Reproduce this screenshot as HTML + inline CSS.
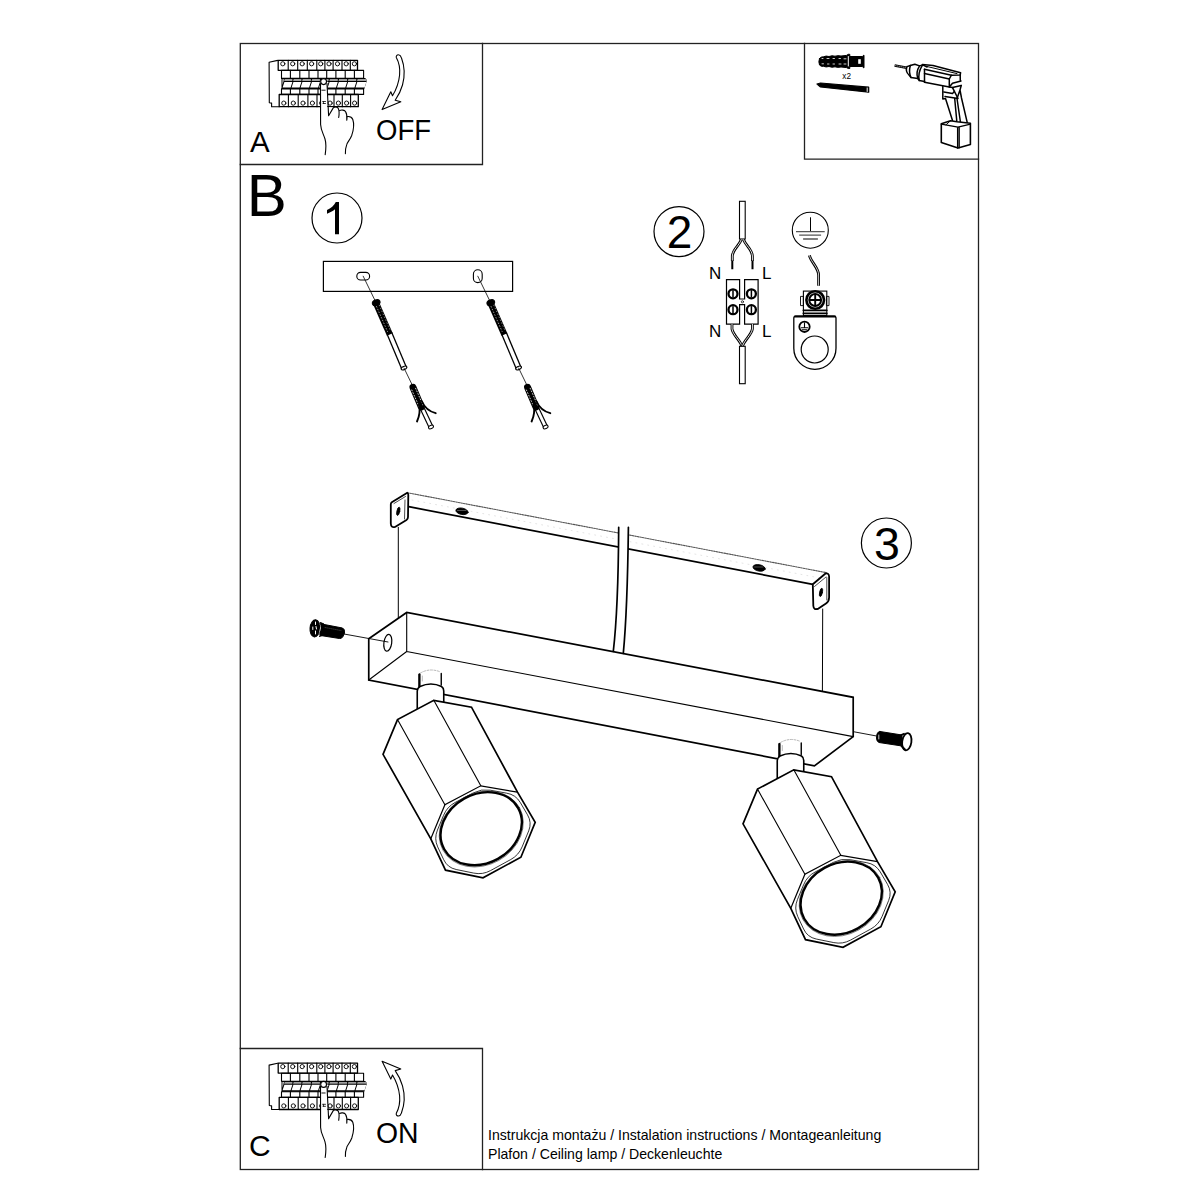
<!DOCTYPE html>
<html><head><meta charset="utf-8">
<style>
html,body{margin:0;padding:0;background:#fff;}
body{width:1200px;height:1200px;overflow:hidden;position:relative;}
svg{position:absolute;left:0;top:0;}
text{font-family:"Liberation Sans",sans-serif;}
</style></head><body>
<svg width="1200" height="1200" viewBox="0 0 1200 1200" fill="none" stroke="#000" stroke-linejoin="round" stroke-linecap="round">
<!-- frame -->
<g stroke="#222" stroke-width="1.3" stroke-linecap="square" stroke-linejoin="miter">
<rect x="240.3" y="43.5" width="738.2" height="1126"/>
<path d="M240.3,164.5 H482.5 V43.5"/>
<path d="M240.3,1048.5 H482.5 V1169.5"/>
<path d="M804.5,43.5 V159.2 H978.5"/>
</g>
<!-- letters -->
<g stroke="none" fill="#000">
<text x="250" y="151.8" font-size="29.5">A</text>
<text x="249" y="1156.3" font-size="30">C</text>
<text x="246.8" y="216" font-size="60">B</text>
<text x="376" y="140" font-size="29.5" textLength="55" lengthAdjust="spacingAndGlyphs">OFF</text>
<text x="376" y="1143.3" font-size="29" textLength="42.6" lengthAdjust="spacingAndGlyphs">ON</text>
<text x="488" y="1140.3" font-size="14.1">Instrukcja montażu / Instalation instructions / Montageanleitung</text>
<text x="488" y="1159.3" font-size="14.1">Plafon / Ceiling lamp / Deckenleuchte</text>
<path d="M339,202 V234.2 H335 V209.3 C332.5,211.3 330,212.7 327,213.8 V210 C331,208.5 334,205.5 335.8,202 Z" fill="#000" stroke="none"/>
<text x="679.6" y="247.6" font-size="46" text-anchor="middle">2</text>
<text x="887" y="559.5" font-size="46.5" text-anchor="middle">3</text>
<text x="709" y="278.6" font-size="17">N</text>
<text x="762" y="278.6" font-size="17">L</text>
<text x="709" y="337.2" font-size="17">N</text>
<text x="762" y="337.2" font-size="17">L</text>

</g>
<g stroke-width="1.2">
<circle cx="337" cy="218" r="25"/>
<circle cx="679" cy="231.6" r="25"/>
<circle cx="886.4" cy="543" r="25"/>
</g>
<!-- arrows -->
<path id="arrOff" d="M396.3,57.5 C395.8,55.5 397.5,54.6 398.5,54.8 C400,55 401,56.5 401.5,58 C404.5,66 405,76 402.5,85 C400.8,91 398.5,95.5 395.2,100.2 L400.8,101.8 L382.1,109.6 L390.8,91.7 L392.5,95.8 C396,90 398.8,83 399.6,75 C400.2,68.5 398.8,62 396.3,57.5 Z" stroke-width="1.1"/>
<g transform="translate(0,1170.8) scale(1,-1)"><path d="M396.3,57.5 C395.8,55.5 397.5,54.6 398.5,54.8 C400,55 401,56.5 401.5,58 C404.5,66 405,76 402.5,85 C400.8,91 398.5,95.5 395.2,100.2 L400.8,101.8 L382.1,109.6 L390.8,91.7 L392.5,95.8 C396,90 398.8,83 399.6,75 C400.2,68.5 398.8,62 396.3,57.5 Z" stroke-width="1.1"/></g>

<!-- breaker panel A -->
<g id="brk" stroke="#000">
<path d="M277.6,60.4 L269.1,62.3 L269.3,102.7 L271.6,103.1 L271.6,106.7 L279.2,106.7" stroke-width="1.1"/>
<!-- top terminal row -->
<rect x="278.2" y="60.3" width="79.3" height="10" stroke-width="1.3"/>
<path d="M288.2,60.3V70.3 M297.7,60.3V70.3 M307.3,60.3V70.3 M316.8,60.3V70.3 M324.9,60.3V70.3 M333.1,60.3V70.3 M342,60.3V70.3 M350.3,60.3V70.3" stroke-width="1.1"/>
<g stroke-width="0.9">
<circle cx="282.8" cy="63.8" r="2.1"/><circle cx="292.7" cy="63.8" r="2.1"/><circle cx="302.2" cy="63.8" r="2.1"/><circle cx="311.6" cy="63.8" r="2.1"/><circle cx="320.7" cy="63.8" r="2.1"/><circle cx="329" cy="63.8" r="2.1"/><circle cx="337.5" cy="63.8" r="2.1"/><circle cx="346.2" cy="63.8" r="2.1"/><circle cx="354.4" cy="63.8" r="2.1"/>
</g>
<!-- row 2 -->
<rect x="281.5" y="70.4" width="82.1" height="8" stroke-width="1.1"/>
<path d="M290.4,70.4V78.4 M299.8,70.4V78.4 M309,70.4V78.4 M318,70.4V78.4 M326.7,70.4V78.4 M335.9,70.4V78.4 M345.2,70.4V78.4 M354.4,70.4V78.4" stroke-width="1.1"/>
<!-- toggle band -->
<path d="M281.5,78.1 H365.2 Q366.8,79 366.6,81.5 L364.3,88.9 H281.5 Z" fill="#000" stroke="none"/>
<path d="M284.70,79.1 H292.40 V80.9 H284.10 Z M293.70,79.1 H301.40 V80.9 H293.10 Z M302.70,79.1 H310.90 V80.9 H302.10 Z M312.20,79.1 H319.90 V80.9 H311.60 Z M321.20,79.1 H328.60 V80.9 H320.60 Z M329.90,79.1 H337.80 V80.9 H329.30 Z M339.10,79.1 H347.10 V80.9 H338.50 Z M348.40,79.1 H356.30 V80.9 H347.80 Z M357.60,79.1 H366.40 V80.9 H357.00 Z" fill="#a0a0a0" stroke="none"/>
<path d="M284.40,82 H292.40 L290.60,87.4 H282.60 Z M293.40,82 H301.40 L299.60,87.4 H291.60 Z M302.40,82 H310.90 L309.10,87.4 H300.60 Z M311.90,82 H319.90 L318.10,87.4 H310.10 Z M320.90,82 H328.60 L326.80,87.4 H319.10 Z M329.60,82 H337.80 L336.00,87.4 H327.80 Z M338.80,82 H347.10 L345.30,87.4 H337.00 Z M348.10,82 H356.30 L354.50,87.4 H346.30 Z M357.30,82 H366.40 L364.60,87.4 H355.50 Z" fill="#fff" stroke="none"/>
<path d="M282.5,79.2 L283.9,79.2 L282.5,85 Z" fill="#fff" stroke="none"/>
<!-- row 3 -->
<rect x="281.5" y="88.9" width="82.1" height="5.5" stroke-width="1.1"/>
<path d="M290.4,88.9V94.4 M299.8,88.9V94.4 M309,88.9V94.4 M318,88.9V94.4 M326.7,88.9V94.4 M335.9,88.9V94.4 M345.2,88.9V94.4 M354.4,88.9V94.4" stroke-width="1.1"/>
<!-- bottom row -->
<rect x="279.2" y="94.5" width="79.1" height="12.2" stroke-width="1.3"/>
<path d="M288.4,94.5V106.7 M298.2,94.5V106.7 M307.9,94.5V106.7 M317,94.5V106.7 M326.5,94.5V106.7 M334,94.5V106.7 M342.3,94.5V106.7 M350.6,94.5V106.7" stroke-width="1.1"/>
<g stroke-width="0.9">
<circle cx="283.8" cy="103.1" r="2.1"/><circle cx="293.3" cy="103.1" r="2.1"/><circle cx="303" cy="103.1" r="2.1"/><circle cx="312.4" cy="103.1" r="2.1"/><circle cx="321.6" cy="103.1" r="2.1"/><circle cx="330.1" cy="103.1" r="2.1"/><circle cx="338.4" cy="103.1" r="2.1"/><circle cx="346.6" cy="103.1" r="2.1"/><circle cx="354.6" cy="103.1" r="2.1"/>
</g>
<!-- hand -->
<path d="M320.4,82 L320.6,124.6 C320.8,130 323.5,134 325,139 C326.2,143 326,149 325.2,154.7 M320.4,82 V154" stroke="none"/>
<path d="M320.4,107 L320.4,124.6 C320.8,130 323.5,134 325,139 C326.2,143 326,149 325.2,154.7 L345.4,153.6 C345.2,151 345.5,148 346.8,144.4 C347.5,142 350,140 351.8,135.2 C353.5,130 354,123 352.8,119.5 C352,117.5 350,116.5 348.2,116.8 L346.8,120.3 L338.7,117.5 L333.4,107.6 Z" fill="#fff" stroke="none"/>
<rect x="320.5" y="81" width="6.8" height="30" fill="#fff" stroke="none"/>
<path d="M320.5,83.5 L320.6,124.6 C320.8,130 323.5,134 325,139 C326.2,143 326,149 325.2,154.7" stroke-width="1.1"/>
<path d="M327,83.5 L328.6,115.8 L333.4,107.6 C335,106.5 337.5,107 338.3,108.5 C339.5,111 339.2,114.5 338.7,117.5" stroke-width="1.1"/>
<path d="M339.6,110.6 C341.5,109.6 344.5,110 345.5,111.5 C347,114 347.2,117 346.8,120.3" stroke-width="1.1"/>
<path d="M347.4,116.6 C350,116.3 352,117.5 352.8,119.5 C354,123 353.5,130 351.8,135.2 C350,140 347.5,142 346.8,144.4 C345.5,148 345.2,151 345.4,153.6" stroke-width="1.1"/>
<ellipse cx="323.6" cy="81.6" rx="2.9" ry="3" fill="#fff" stroke-width="1.1"/>
<path d="M321.8,90.2 H325.2" stroke-width="0.9"/>
<path d="M322.8,101.5 L325.5,101.5 M323,103.5 H325.5 M323.2,101.5 L323.6,103.5" stroke-width="0.8"/>
</g>
<use href="#brk" transform="translate(0,1002.8)"/>

<!-- section 1 -->
<rect x="323.4" y="261.4" width="189.2" height="30" stroke-width="1.2" stroke-linejoin="miter"/>
<rect x="356.8" y="272.4" width="12.8" height="7.6" rx="3.8" stroke-width="1.1"/>
<rect x="473.4" y="269.8" width="8.8" height="12.8" rx="4.4" stroke-width="1.1"/>
<g id="screw1">
<path d="M363.2,276.2 L376,302.5" stroke-width="0.8"/>
<path d="M389.5,333.5 L404,368" stroke="#000" stroke-width="6.2" stroke-linecap="butt"/>
<path d="M389.5,333.5 L404,368" stroke="#fff" stroke-width="3.6" stroke-linecap="butt"/>
<ellipse cx="404" cy="368" rx="3" ry="1.6" transform="rotate(-23 404 368)" fill="#fff" stroke-width="1.1"/>
<path d="M376,303 L389.8,334.5" stroke="#000" stroke-width="6.4" stroke-linecap="butt"/>
<ellipse cx="376.2" cy="302.6" rx="4" ry="2.8" transform="rotate(-24 376.2 302.6)" fill="#000" stroke="#000" stroke-width="1"/>
<path d="M376.5,306.5 L387.5,331.5" stroke="#fff" stroke-width="0.6" stroke-dasharray="0.7 2.3"/>
<path d="M379.3,305.3 L390.3,330.3" stroke="#fff" stroke-width="0.5" stroke-dasharray="0.6 2.6"/>
<path d="M404,368 L412,384.5" stroke-width="0.8"/>
<!-- anchor -->
<path d="M422.5,409 L431,427" stroke="#000" stroke-width="5.2" stroke-linecap="butt"/>
<path d="M422.5,409 L431,427" stroke="#fff" stroke-width="2.9" stroke-linecap="butt"/>
<ellipse cx="431" cy="427" rx="2.6" ry="1.6" transform="rotate(-23 431 427)" fill="#fff" stroke-width="1"/>
<path d="M413,387.3 L421.3,407" stroke="#000" stroke-width="7"/>
<path d="M411.8,390 L419.3,407" stroke="#fff" stroke-width="0.8" stroke-dasharray="0.9 2"/>
<path d="M415.6,388.3 L422.9,405" stroke="#fff" stroke-width="0.8" stroke-dasharray="0.9 2"/>
<path d="M419,404 C420.5,411 419.3,416.5 417,421.5" stroke-width="1.9"/>
<path d="M422,401.5 C424.5,407.5 429.5,411.5 435.7,413.2" stroke-width="1.9"/>
</g>
<use href="#screw1" transform="translate(114.6,0)"/>

<!-- section 2 -->
<rect x="739.5" y="201.3" width="5.7" height="37.7" stroke-width="1.1" stroke-linejoin="miter"/>
<g id="wireT">
<path d="M741.3,239.5 C739,246 733,249 732.3,256 L732.3,261" stroke="#000" stroke-width="2.8" stroke-linecap="butt"/>
<path d="M741.3,239.5 C739,246 733,249 732.3,256 L732.3,261" stroke="#fff" stroke-width="0.9" stroke-linecap="butt"/>
<path d="M743.5,239.5 C746,246 751.8,249 752.4,256 L752.4,261" stroke="#000" stroke-width="2.8" stroke-linecap="butt"/>
<path d="M743.5,239.5 C746,246 751.8,249 752.4,256 L752.4,261" stroke="#fff" stroke-width="0.9" stroke-linecap="butt"/>
</g>
<path d="M732.3,260.5 V269.3 M752.5,260.5 V269.3" stroke-width="2" stroke-linecap="butt"/>
<!-- terminal block -->
<path d="M726.5,279.7 H739.6 V299 H744.6 V279.7 H758.1 V324.1 H744.6 V304.6 H739.6 V324.1 H726.5 Z" stroke-width="1.2" stroke-linejoin="miter"/>
<circle cx="742.4" cy="301.8" r="1.1" stroke-width="0.7"/>
<g stroke-width="2.3">
<circle cx="733" cy="293.8" r="4.5"/><circle cx="751.4" cy="293.8" r="4.5"/>
<circle cx="733" cy="309.7" r="4.5"/><circle cx="751.4" cy="309.7" r="4.5"/>
</g>
<path d="M733,290.8V296.8 M751.4,290.8V296.8 M733,306.7V312.7 M751.4,306.7V312.7" stroke-width="1.5"/>
<g>
<path d="M732,324 V329 C733,335 740,340 742,346.3" stroke="#000" stroke-width="2.8" stroke-linecap="butt"/>
<path d="M732,324 V329 C733,335 740,340 742,346.3" stroke="#fff" stroke-width="0.9" stroke-linecap="butt"/>
<path d="M752.4,324 V329 C751.4,335 744.4,340 742.4,346.3" stroke="#000" stroke-width="2.8" stroke-linecap="butt"/>
<path d="M752.4,324 V329 C751.4,335 744.4,340 742.4,346.3" stroke="#fff" stroke-width="0.9" stroke-linecap="butt"/>
</g>
<rect x="739.5" y="346.3" width="5.7" height="37.4" fill="#fff" stroke-width="1.1" stroke-linejoin="miter"/>
<!-- earth -->
<circle cx="810.3" cy="230.2" r="18" stroke-width="1.1"/>
<path d="M810.5,217.7 V231.6" stroke-width="1"/>
<path d="M796,231.6 H824.7 M799.2,235.2 H821.1 M803.1,239 H817.9" stroke="#555" stroke-width="1.3" stroke-linecap="butt"/>
<path d="M809.4,255.3 C811,262 818.6,268 818.6,275 V285.7" stroke="#000" stroke-width="2.8" stroke-linecap="butt"/>
<path d="M809.4,255.3 C811,262 818.6,268 818.6,275 V285.7" stroke="#fff" stroke-width="0.8" stroke-linecap="butt"/>
<rect x="800.9" y="296.4" width="2.5" height="9.2" stroke-width="0.9"/>
<rect x="826.8" y="296.4" width="2.2" height="9.2" stroke-width="0.9"/>
<rect x="803.4" y="291.1" width="23.4" height="24.4" stroke-width="1.1" stroke-linejoin="miter"/>
<path d="M803.4,310.3 H826.8 M803.4,313.3 H826.8" stroke-width="1.8"/>
<circle cx="815.2" cy="300" r="8.8" stroke-width="2.6"/>
<circle cx="815.2" cy="300" r="5.9" stroke-width="2"/>
<path d="M815.2,294.5 V305.5 M809.7,300 H820.7" stroke-width="1.9"/>
<path d="M795.8,316.2 H834 Q836,316.2 836,318.2 V348.2 A21.1,21.1 0 0 1 793.8,348.2 V318.2 Q793.8,316.2 795.8,316.2 Z" stroke-width="1.3"/>
<path d="M795,316.5 H835" stroke-width="2.2"/>
<circle cx="814.7" cy="349.5" r="13.5" stroke-width="1.2"/>
<circle cx="804.5" cy="326.8" r="5.2" stroke-width="1.8"/>
<path d="M804.5,322.8 V327.5 M801.3,327.8 H807.7 M802.3,329.8 H806.7" stroke-width="1.1"/>

<!-- section 3 bracket -->
<path d="M407.3,492.7 L826.2,572.6" stroke="#555" stroke-width="1.1" stroke-dasharray="1.6 1"/>
<path d="M412,500 L820,578" stroke="#ddd" stroke-width="0.8" stroke-dasharray="1 5"/>
<path d="M408.7,506.7 L812.8,584.3" stroke-width="1.7"/>
<path d="M407.3,492.7 L391.8,502.3 Q390.8,503 390.8,504.5 L390.8,523.5 Q391,528 395,527 L406.5,520 Q408,519 408,517 L408.3,495 Q408.3,493.2 407.3,492.7 Z" fill="#fff" stroke-width="1.8"/>
<path d="M405.5,496.5 L394,503.5 M405,500 L404.5,519" stroke-width="0.7"/>
<ellipse cx="398.3" cy="511.3" rx="1.4" ry="4.2" transform="rotate(12 398.3 511.3)" fill="#000" stroke-width="0.8"/>
<path d="M812.8,584.3 L825.5,573.5 Q828.8,572.8 829.1,576.5 L829.1,597.5 Q829,601.5 826,603.5 L818.5,608.6 Q813.6,610.5 813.3,605.8 Z" fill="#fff" stroke-width="1.8"/>
<path d="M814.5,586.5 L826,577 M826.8,577.5 V600" stroke-width="0.7"/>
<ellipse cx="821" cy="592.4" rx="1.4" ry="4.2" transform="rotate(12 821 592.4)" fill="#000" stroke-width="0.8"/>
<ellipse cx="462" cy="511.3" rx="6.2" ry="3.2" transform="rotate(11 462 511.3)" fill="#000" stroke-width="0.8"/>
<ellipse cx="759.1" cy="567.9" rx="6.2" ry="3.2" transform="rotate(11 759.1 567.9)" fill="#000" stroke-width="0.8"/>
<path d="M457.5,510.5 H466" stroke="#888" stroke-width="0.6"/>
<path d="M754.6,567 H763" stroke="#888" stroke-width="0.6"/>
<path d="M398.3,527.3 V618 M822.7,609 L822.4,691.3" stroke-width="1"/>
<!-- cable -->
<path d="M618.7,527.3 C618.5,560 617,620 613.3,651.3 L623.3,653.3 C626.5,620 628,560 628.4,527.3 Z" fill="#fff" stroke="none"/>
<path d="M618.7,527.3 C618.5,560 617,620 613.3,651.3 M628.4,527.3 C628,560 626.5,620 623.3,653.3" stroke-width="1.7"/>
<!-- box -->
<path d="M368.75,638.75 L406.7,612.5 L853.2,697.3 L853.2,736.6 L814.4,765.9 L368.75,680 Z" stroke-width="1.7" stroke-linejoin="miter"/>
<path d="M406.7,612.5 V651.5 L853.2,736.6 M406.7,651.5 L368.75,680" stroke-width="1.1"/>
<ellipse cx="387.8" cy="642.8" rx="3.9" ry="8.5" transform="rotate(8 387.8 642.8)" stroke-width="1.2"/>
<path d="M344,634 L388,642" stroke-width="0.9"/>
<path d="M854,731.8 L876.5,736" stroke-width="0.9"/>
<!-- screw left -->
<path d="M320.5,623.8 L342.5,628 Q345,629 344.5,633 L343,636.5 Q341.5,639 339.5,638.5 L320.5,635.5 Z" fill="#000" stroke-width="1"/>
<path d="M320.5,622.5 L324,624 L323.5,635 L319.5,636.5" fill="#000" stroke-width="1"/>
<ellipse cx="315" cy="628.4" rx="5" ry="8.6" transform="rotate(5 315 628.4)" fill="#000" stroke-width="1"/>
<path d="M319.5,623 Q321,628 318.5,634 Q320.8,631 320.8,628 Q320.8,625 319.5,623 Z" fill="#fff" stroke="none"/>
<path d="M315.5,622 V624.5 M312.8,627 V629.5 M315.5,631 V634 M316,626.5 L316.5,629" stroke="#fff" stroke-width="1"/>
<path d="M325,627.5 L341,630.5" stroke="#666" stroke-width="0.5" stroke-dasharray="1 1"/>
<!-- screw right -->
<path d="M880,731.5 L902,735 L902,746 L879,742.5 Q876.5,741.5 876.5,738 L877,734 Q877.8,731.5 880,731.5 Z" fill="#000" stroke-width="1"/>
<ellipse cx="906.8" cy="741.8" rx="4.6" ry="8.7" transform="rotate(8 906.8 741.8)" fill="#fff" stroke-width="1.8"/>
<path d="M901,735 L904,733.8 M901.5,746 L905,749.5" stroke-width="1.8"/>
<path d="M878.8,735 V739" stroke="#fff" stroke-width="0.8"/>
<!-- lamp -->
<g id="lamp">
<path d="M419.75,690 V674 Q430,668.5 441.25,673.5 V690 Z" fill="#fff" stroke="none"/>
<path d="M419.75,686 V674 M441.25,685 V673.5" stroke-width="1.4"/>
<path d="M419.2,687 V674.5" stroke-width="2"/>
<path d="M420.5,673 Q430,667.5 440.5,672" stroke="#999" stroke-width="0.7" stroke-dasharray="2 1.5"/>
<path d="M422.3,676 V681" stroke="#888" stroke-width="0.6"/>
<path d="M417.25,712 V691 Q417.5,688 420,686.5 Q431,681.5 441.5,686.5 Q443.75,688 443.75,691 V712 Z" fill="#fff" stroke-width="1.6"/>
<path d="M383,754.3 L397.5,719.6 L433.8,700.3 L471.5,707.2 L517.5,792.2 L535.2,822.4 L520.9,857.2 L483,877.8 L445.5,870.2 L430.8,838.8 Z" fill="#fff" stroke-width="1.7" stroke-linejoin="miter"/>
<path d="M397.5,719.6 L444.9,804.7 M433.8,700.3 L480.8,785.8" stroke-width="1.1"/>
<path d="M430.8,838.8 L444.9,804.7 L480.8,785.8 L517.5,792.2" stroke-width="1.2" stroke-linejoin="miter"/>
<path d="M443.7,815.0 Q447.1,806.7 455.1,802.5 L473.3,792.9 Q481.3,788.7 490.2,790.2 L506.8,793.2 Q515.7,794.7 520.3,802.5 L527.5,814.8 Q532.1,822.6 528.7,830.9 L522.1,846.9 Q518.7,855.2 510.8,859.5 L490.5,870.6 Q482.6,874.9 473.8,873.1 L456.2,869.5 Q447.4,867.7 443.6,859.5 L437.7,846.9 Q433.9,838.7 437.3,830.4 Z" stroke-width="0.8"/>
<ellipse cx="481.3" cy="829" rx="43.8" ry="36" transform="rotate(-29 481.3 829)" stroke-width="0.6" stroke="#444"/>
<ellipse cx="481.2" cy="828.7" rx="42.3" ry="34.5" transform="rotate(-29 481.2 828.7)" stroke-width="2.4"/>
</g>
<use href="#lamp" transform="translate(360,69.5)"/>

<!-- dowel -->
<g stroke="#000">
<path d="M819.5,58.5 Q818.2,61.5 819.5,65 Q821,66.8 823.5,66.3 Q826,67.5 829,66.5 Q832,67.8 835,66.8 Q838,67.8 841,67 L846.5,67.6 L848.3,68.5 L849.8,68.5 V66.5 H862.5 L863.5,67.8 H864 V55.2 L863.5,55.3 L862.5,56.5 H849.8 V54.3 L848.3,54.3 L846.5,55.4 L841,56 Q838,55.2 835,56.2 Q832,55.2 829,56.5 Q826,55.5 823.5,56.8 Q821,56.5 819.5,58.5 Z" fill="#000" stroke-width="1"/>
<path d="M822,58.5 H823 M827,58.5 H829 M833,58.5 H834.5 M839,58.5 H840.5 M844,58.8 H846 M822,63.8 H823.5 M827.5,64 H829 M833,64 H834.5 M839,64 H841 M844,64 H846" stroke="#fff" stroke-width="0.8"/>
<path d="M848.3,56.5 V66" stroke="#fff" stroke-width="1"/>
<rect x="858.2" y="59.2" width="2.6" height="4.6" fill="#fff" stroke="none"/>
<text x="842.3" y="79" font-size="8.2" fill="#000" stroke="none">x2</text>
<!-- long screw -->
<path d="M817,84 L820.5,83 L868.7,87.2 L868.7,92.2 L820.5,87 Z" fill="#000" stroke-width="1.2"/>
<path d="M867.2,88 V91.5" stroke="#fff" stroke-width="1"/>
</g>
<!-- drill -->
<g stroke="#000" stroke-width="1.5" fill="none">
<path d="M894.6,65.4 L906.6,67.8" stroke-width="2.6" stroke-linecap="butt"/>
<path d="M895.5,65.6 L905.5,67.6" stroke="#fff" stroke-width="0.5" stroke-dasharray="0.7 1.3"/>
<path d="M907,66.6 Q905,71.5 909,75 L911,77.5 L917.8,78.6 L919.3,80.5 L924.5,81.6 M907,66.6 L910.3,65.5 L914.8,64.2 L919.6,65.9 L922.6,64.9 L927.1,67"/>
<path d="M910.3,65.5 Q908.5,72 911,77.5 M919.6,65.9 Q915.5,72 917.8,78.6 M922.6,64.9 Q917.5,73 919.3,80.5"/>
<path d="M924.5,69.2 V82.2"/>
<path d="M922.4,64.6 L933,65.4 L960.6,72.7 L960.2,75 L951.4,75.2 L924.5,69.2"/>
<path d="M927,66.5 L957,73.6" stroke-width="1"/>
<path d="M924.5,73.5 L949.3,79 M924.5,82.2 L949.3,87.1 L952.5,87.6 L961.2,85.5"/>
<path d="M949.3,79 L951.4,75.2 M960.2,75 L960.3,81.1 L952.5,83.3 L949.3,87.1 M949.3,79 V87.1 M952.5,83.3 L961,81"/>
<path d="M942.8,86.5 L942.8,99 L945.5,98.5 L952.5,120.5"/>
<path d="M943.8,92 L952.5,93.6 L954.5,91 M945,96.5 L958,98.5 L952.5,87.6"/>
<path d="M961.2,85.5 L960,90 L961.5,98 L967.2,122.3 M960,90 L957,98.5 L960.5,122.5 M954.7,98.5 L956.9,122.3" />
<path d="M941.3,123.8 L950.5,120.8 L957,121.8 L970.4,123.2 L970.4,144.5 L958,148 L941.3,142.5 Z" fill="#fff" stroke-width="1.6"/>
<path d="M941.3,124.2 L958,127.2 L970.4,124.2 M957.6,127.2 V148 M959.2,127 V147.8" stroke-width="1.3"/>
<path d="M950.5,120.8 L946,124.8" stroke-width="1"/>
</g>

</svg>
</body></html>
